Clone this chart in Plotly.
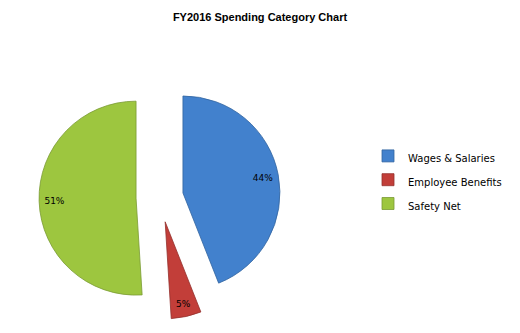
import plotly.graph_objects as go

labels = ["Wages & Salaries", "Employee Benefits", "Safety Net"]
values = [44, 5, 51]
colors = ["#4281CD", "#C23E39", "#9DC63F"]
line_colors = ["#32659F", "#93302C", "#7A9A33"]
pulls = [0.244, 0.258, 0.244]
title_text = "FY2016 Spending Category Chart"

W, H = 520, 333

legend_labels = ["<span style='font-size:10px'>%s</span>" % s for s in labels]
domain = dict(x=[37.7 / W, 281.7 / W], y=[1 - 319.4 / H, 1 - 75.4 / H])

fig = go.Figure()
# solid slices
fig.add_trace(go.Pie(
    labels=legend_labels,
    values=values,
    sort=False,
    direction="clockwise",
    rotation=0,
    pull=pulls,
    marker=dict(colors=colors, line=dict(color=line_colors, width=0.8)),
    textinfo="none",
    domain=domain,
    hoverinfo="label+percent",
))
# transparent ring carrying the percentage labels further out
fig.add_trace(go.Pie(
    labels=legend_labels,
    values=values,
    sort=False,
    direction="clockwise",
    rotation=0,
    pull=pulls,
    hole=0.68,
    marker=dict(colors=["rgba(0,0,0,0)"] * len(values), line=dict(width=0)),
    texttemplate="%{percent:.0%}",
    textposition="inside",
    insidetextorientation="horizontal",
    textfont=dict(family="DejaVu Sans", size=9, color="#000000"),
    domain=domain,
    showlegend=False,
    hoverinfo="skip",
))

fig.update_layout(
    width=W, height=H,
    margin=dict(l=0, r=0, t=0, b=0),
    paper_bgcolor="#FFFFFF",
    title=dict(text="<b>%s</b>" % title_text, x=0.5, xanchor="center",
               y=1 - 17 / H, yanchor="middle",
               font=dict(family="Liberation Sans", size=11, color="#000000")),
    legend=dict(x=368 / W, xanchor="left", y=1 - 180 / H, yanchor="middle",
                font=dict(family="DejaVu Sans", size=16, color="#000000"),
                bgcolor="rgba(0,0,0,0)"),
)

fig.write_html("out.html")
